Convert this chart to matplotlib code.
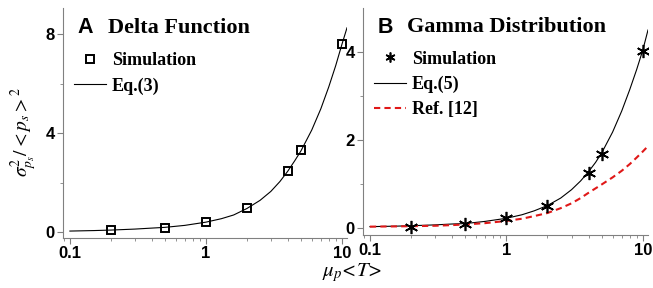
import matplotlib
matplotlib.use("Agg")
import matplotlib.pyplot as plt
from matplotlib.ticker import FixedLocator, NullFormatter, LogLocator

# ---- data ----
sim_x = [0.2, 0.5, 1, 2, 4, 5, 10]
simA_y = [0.09, 0.17, 0.41, 0.98, 2.48, 3.30, 7.58]
simB_y = [0.03, 0.09, 0.22, 0.49, 1.26, 1.69, 4.03]

curve_x = [0.1, 0.15, 0.2, 0.3, 0.4, 0.5, 0.7, 1.0, 1.3, 1.6, 2.0, 2.5, 3.0, 3.5, 4.0, 4.5,
           5.0, 6.0, 7.0, 8.0, 9.0, 10.0, 10.9]
eq3_y = [0.04, 0.06, 0.08, 0.12, 0.16, 0.19, 0.27, 0.40, 0.54, 0.69, 0.95, 1.28, 1.64, 2.04,
         2.46, 2.88, 3.28, 4.12, 4.98, 5.86, 6.72, 7.58, 8.25]
eq5_y = [0.03, 0.04, 0.05, 0.07, 0.09, 0.10, 0.15, 0.22, 0.30, 0.39, 0.51, 0.68, 0.87, 1.07,
         1.28, 1.49, 1.71, 2.18, 2.66, 3.14, 3.60, 4.05, 4.50]
ref12_y = [0.03, 0.035, 0.04, 0.05, 0.065, 0.08, 0.11, 0.16, 0.21, 0.27, 0.34, 0.45, 0.56,
           0.68, 0.80, 0.90, 0.99, 1.15, 1.30, 1.45, 1.60, 1.74, 1.86]

xticks = [0.1, 1, 10]
xticklabels = ["0.1", "1", "10"]
yticksA = [0, 4, 8]
yticksB = [0, 2, 4]

# ---- figure ----
plt.rcParams["mathtext.fontset"] = "stix"
fig = plt.figure(figsize=(6.53, 2.88), dpi=100)
axA = fig.add_axes([63/653, 1-238/288, (347-63)/653, (238-8)/288])
axB = fig.add_axes([363/653, 1-235/288, (648-363)/653, (235-8)/288])

spine_col = "#808080"
tick_font = dict(family="Liberation Sans", weight="bold", size=12)
leg_font = dict(family="Liberation Serif", weight="bold", size=13)

for ax in (axA, axB):
    ax.set_xscale("log")
    ax.set_xlim(0.089, 10.9)
    for s in ("top", "right"):
        ax.spines[s].set_visible(False)
    for s in ("left", "bottom"):
        ax.spines[s].set_color(spine_col)
        ax.spines[s].set_linewidth(0.8)
    ax.set_xticks(xticks)
    ax.set_xticklabels(xticklabels)
    ax.xaxis.set_minor_locator(LogLocator(base=10, subs=range(2, 10)))
    ax.xaxis.set_minor_formatter(NullFormatter())
    ax.tick_params(which="major", direction="out", length=4, width=0.8, color=spine_col, pad=2)
    ax.tick_params(which="minor", direction="out", length=2.5, width=0.6, color=spine_col)
    ax.patch.set_alpha(0)

# Panel A
axA.plot(curve_x, eq3_y, color="black", lw=0.8, label="Eq.(3)")
axA.plot(sim_x, simA_y, ls="none", marker="s", ms=5.6, mfc="none", mec="black", mew=1.4,
         label="Simulation")
axA.set_ylim(-0.24, 9.05)
axA.set_yticks(yticksA)
axA.yaxis.set_minor_locator(FixedLocator([2, 6]))
for lab in axA.get_xticklabels() + axA.get_yticklabels():
    lab.set_fontproperties(tick_font)
hA, lA = axA.get_legend_handles_labels()
axA.legend([hA[1], hA[0]], [lA[1], lA[0]], loc="upper left", bbox_to_anchor=(0.0, 0.855),
           frameon=False, prop=leg_font, handlelength=1.8, handletextpad=0.3,
           labelspacing=0.45, borderaxespad=0.2)
axA.text(0.05, 0.915, "A", transform=axA.transAxes, fontfamily="Liberation Sans",
         fontweight="bold", fontsize=15.5, va="center", ha="left")
axA.text(0.16, 0.915, "Delta Function", transform=axA.transAxes,
         fontfamily="Liberation Serif", fontweight="bold", fontsize=16, va="center", ha="left")

# Panel B
axB.plot(curve_x, eq5_y, color="black", lw=0.8, label="Eq.(5)")
axB.plot(curve_x, ref12_y, color="#e01818", lw=1.5, ls=(0, (3, 2)), label="Ref. [12]")
axB.plot(sim_x, simB_y, ls="none", marker=(6, 2, 0), ms=9.5, mec="black", mew=1.2,
         label="Simulation")
axB.set_ylim(-0.16, 5.0)
axB.set_yticks(yticksB)
axB.yaxis.set_minor_locator(FixedLocator([1, 3]))
for lab in axB.get_xticklabels() + axB.get_yticklabels():
    lab.set_fontproperties(tick_font)
hB, lB = axB.get_legend_handles_labels()
axB.legend([hB[2], hB[0], hB[1]], [lB[2], lB[0], lB[1]], loc="upper left",
           bbox_to_anchor=(0.0, 0.86), frameon=False, prop=leg_font, handlelength=1.8,
           handletextpad=0.3, labelspacing=0.45, borderaxespad=0.2, markerscale=0.75)
axB.text(0.05, 0.915, "B", transform=axB.transAxes, fontfamily="Liberation Sans",
         fontweight="bold", fontsize=15.5, va="center", ha="left")
axB.text(0.155, 0.915, "Gamma Distribution", transform=axB.transAxes,
         fontfamily="Liberation Serif", fontweight="bold", fontsize=16, va="center", ha="left")

fig.text(24/653, 1-132/288, r"$\sigma^2_{p_s}/<p_s>^2$", rotation=90, fontsize=14,
         ha="center", va="center")
fig.text(352/653, 1-273/288, r"$\mu_p$<$T$>", fontsize=15, ha="center", va="center",
         fontfamily="STIXGeneral", fontstyle="italic")

fig.savefig("out.png", dpi=100)
